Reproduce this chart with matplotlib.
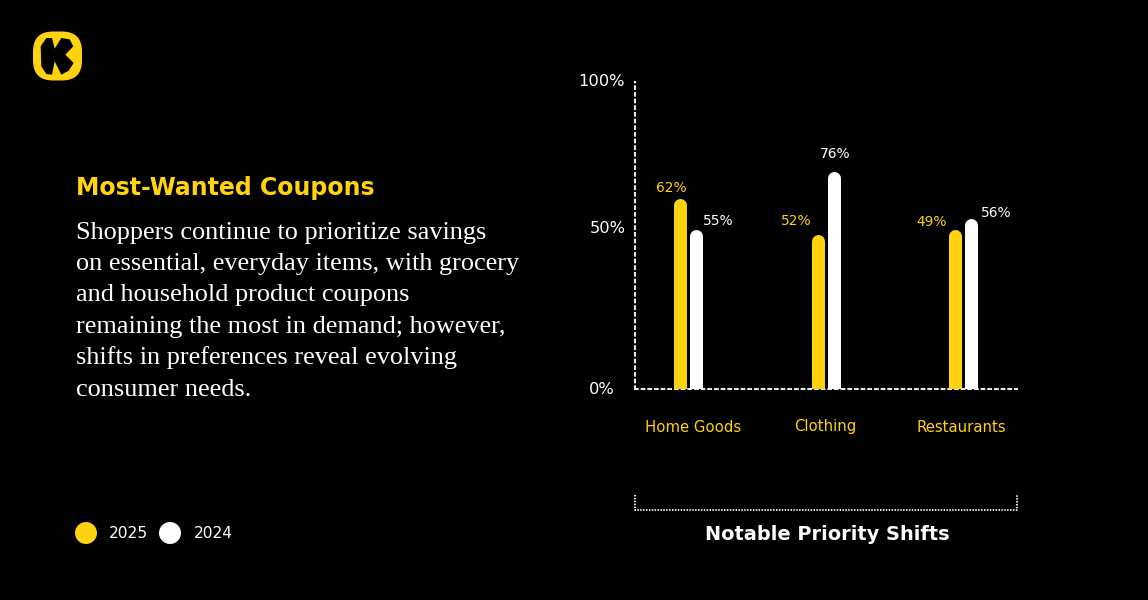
import matplotlib
matplotlib.use("Agg")
import matplotlib.pyplot as plt
from matplotlib.patches import FancyBboxPatch, Polygon, Circle

categories = ["Home Goods", "Clothing", "Restaurants"]
# bar heights as drawn in the picture (they differ from the printed labels)
bars_2025 = [62.2, 50.2, 52.1]
bars_2024 = [52.1, 70.7, 55.7]
labels_2025 = ["62%", "52%", "49%"]
labels_2024 = ["55%", "76%", "56%"]
y_tick_labels = ["0%", "50%", "100%"]
heading = "Most-Wanted Coupons"
body_lines = [
    "Shoppers continue to prioritize savings",
    "on essential, everyday items, with grocery",
    "and household product coupons",
    "remaining the most in demand; however,",
    "shifts in preferences reveal evolving",
    "consumer needs.",
]
footer = "Notable Priority Shifts"

YELLOW = "#FFD30F"
WHITE = "#FFFFFF"
W, H = 1148, 600
SANS = "DejaVu Sans"
SERIF = "Liberation Serif"

fig = plt.figure(figsize=(W / 100, H / 100), dpi=100, facecolor="black")

def px(x, y):
    return x / W, 1 - y / H

ov = fig.add_axes([0, 0, 1, 1], facecolor="none")
ov.set_xlim(0, W)
ov.set_ylim(H, 0)
ov.axis("off")

ax = fig.add_axes([635 / W, 1 - 389 / H, 382 / W, 307 / H], facecolor="none")
ax.set_ylim(0, 100)
group_step = 137.5
ax.set_xlim(-(688 - 635) / group_step, (1017 - 688) / group_step)
ax.set_xticks([])
ax.set_yticks([])
for s in ["top", "right"]:
    ax.spines[s].set_visible(False)
for s in ["left", "bottom"]:
    ax.spines[s].set_color("#E8E8E8")
    ax.spines[s].set_linewidth(1.5)
    ax.spines[s].set_linestyle((0, (1.3, 1.9)))
    ax.spines[s].set_zorder(1)

bar_px = 13
offset = 8 / group_step
r_data = (bar_px / 2) / 3.07
lw = bar_px * 0.72
for series, shift, col in ((bars_2025, -offset, YELLOW), (bars_2024, offset, WHITE)):
    for i, v in enumerate(series):
        ax.plot([i + shift, i + shift], [0, v - r_data], color=col, lw=lw,
                solid_capstyle="round", zorder=3, clip_on=True)

for lab, cx, cy in zip(y_tick_labels, [602, 608, 601.5], [389, 229, 81]):
    fig.text(*px(cx, cy), lab, color=WHITE, fontsize=11.7, family=SANS,
             ha="center", va="center")

for c, cx in zip(categories, [693.5, 825.5, 961.5]):
    fig.text(*px(cx, 431.5), c, color=YELLOW, fontsize=10.7, family=SANS, ha="center", va="baseline")

for lab, cx, cy in zip(labels_2025, [671.5, 796, 932], [187.5, 221, 222]):
    fig.text(*px(cx, cy), lab, color=YELLOW, fontsize=9.9, family=SANS, ha="center", va="center")
for lab, cx, cy in zip(labels_2024, [718.5, 835.5, 996.5], [221, 154, 212.5]):
    fig.text(*px(cx, cy), lab, color=WHITE, fontsize=9.9, family=SANS, ha="center", va="center")

ov.plot([635, 635, 1017, 1017], [495, 509.5, 509.5, 495], color=WHITE, lw=1.3,
        linestyle=(0, (0.8, 0.8)))
fig.text(*px(827, 540), footer, color=WHITE, fontsize=13.95, family=SANS, weight="bold",
         ha="center", va="baseline")

fig.text(*px(75.5, 195.5), heading, color=YELLOW, fontsize=17, family=SANS, weight="bold",
         ha="left", va="baseline")
for i, line in enumerate(body_lines):
    fig.text(*px(75.5, 238.5 + i * 31.4), line, color=WHITE, fontsize=18.9, family=SERIF,
             ha="left", va="baseline")

ov.add_patch(Circle((86, 533), 11, color=YELLOW, lw=0))
ov.add_patch(Circle((170, 533), 11, color=WHITE, lw=0))
fig.text(*px(109, 533.5), "2025", color=WHITE, fontsize=11.2, family=SANS, ha="left", va="center")
fig.text(*px(193.5, 533.5), "2024", color=WHITE, fontsize=11.2, family=SANS, ha="left", va="center")

# logo
ov.add_patch(FancyBboxPatch((45, 43.5), 25, 25, boxstyle="round,pad=12,rounding_size=20",
                            fc=YELLOW, ec="none"))
logo_k = [(55, 30), (72, 30), (80, 62), (100, 30), (125, 34), (136, 55), (112, 80), (137, 105),
          (122, 128), (100, 140), (80, 100), (72, 140), (55, 138), (40, 115), (38, 55)]
ov.add_patch(Polygon([(x / 3 + 28, y / 3 + 28) for x, y in logo_k], closed=True, fc="black",
                     ec="none"))

fig.savefig("out.png", dpi=100, facecolor="black")
